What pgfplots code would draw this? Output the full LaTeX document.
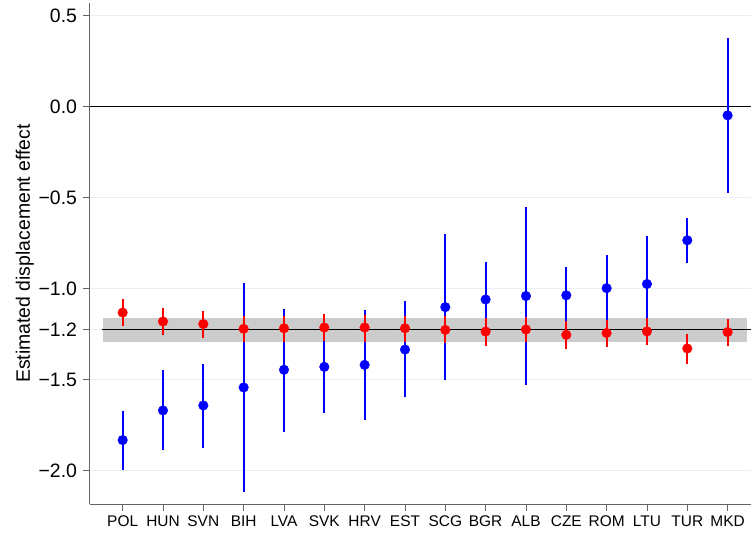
\documentclass[border=0pt]{standalone}
\usepackage{fontspec}
\setmainfont{Liberation Sans}
\usepackage{pgfplots}
\pgfplotsset{compat=1.18}
\usepackage{pgfplotstable}

% point estimates
\pgfplotstableread{
x y
0 -1.831
1 -1.668
2 -1.641
3 -1.542
4 -1.445
5 -1.429
6 -1.418
7 -1.334
8 -1.101
9 -1.059
10 -1.040
11 -1.036
12 -0.997
13 -0.974
14 -0.734
15 -0.048
}\bluedata

\pgfplotstableread{
x y
0 -1.131
1 -1.180
2 -1.194
3 -1.220
4 -1.217
5 -1.213
6 -1.213
7 -1.217
8 -1.226
9 -1.235
10 -1.224
11 -1.253
12 -1.243
13 -1.234
14 -1.328
15 -1.238
}\reddata

\definecolor{gridc}{RGB}{230,239,242}
\definecolor{axc}{RGB}{100,100,100}
\definecolor{bandc}{RGB}{204,204,204}

\begin{document}
\begin{tikzpicture}
\begin{axis}[
  scale only axis, width=661bp, height=501bp,
  xmin=-0.81, xmax=15.58, ymin=-2.182, ymax=0.569,
  axis lines*=left,
  axis line style={axc, line width=1bp},
  xtick={0,...,15},
  xticklabels={POL,HUN,SVN,BIH,LVA,SVK,HRV,EST,SCG,BGR,ALB,CZE,ROM,LTU,TUR,MKD},
  ytick={-2,-1.5,-1.224,-1,-0.5,0,0.5},
  yticklabels={−2.0,−1.5,−1.2,−1.0,−0.5,0.0,0.5},
  tick align=outside, major tick length=7bp,
  tick style={axc, line width=0.9bp},
  ymajorgrids, grid style={gridc, line width=1bp},
  x tick label style={font=\fontsize{15.5}{18}\selectfont, yshift=-1bp},
  y tick label style={font=\fontsize{19.5}{22}\selectfont, xshift=-2.5bp},
  ylabel={Estimated displacement effect},
  ylabel style={font=\fontsize{19.5}{22}\selectfont, at={(rel axis cs:0,0.5)}, anchor=south, inner sep=0pt, yshift=56bp},
  unbounded coords=jump,
]
\coordinate (bbsw) at (rel axis cs:0,0);
\coordinate (bbne) at (rel axis cs:1,1);
\addplot[draw=none, fill=bandc] coordinates {(-0.48,-1.16) (15.48,-1.16) (15.48,-1.29) (-0.48,-1.29)} -- cycle;
\addplot[black, line width=1.3bp] coordinates {(-0.51,-1.224) (15.58,-1.224)};
\addplot[black, line width=1.3bp] coordinates {(-0.81,0) (15.58,0)};
% blue confidence intervals
\addplot[blue, line width=2.1bp, line cap=butt] coordinates {
 (0,-1.994) (0,-1.674) (0,nan)
 (1,-1.888) (1,-1.445) (1,nan)
 (2,-1.872) (2,-1.411) (2,nan)
 (3,-2.116) (3,-0.969) (3,nan)
 (4,-1.784) (4,-1.109) (4,nan)
 (5,-1.683) (5,-1.160) (5,nan)
 (6,-1.720) (6,-1.118) (6,nan)
 (7,-1.597) (7,-1.070) (7,nan)
 (8,-1.500) (8,-0.700) (8,nan)
 (9,-1.260) (9,-0.852) (9,nan)
 (10,-1.529) (10,-0.552) (10,nan)
 (11,-1.220) (11,-0.880) (11,nan)
 (12,-1.220) (12,-0.815) (12,nan)
 (13,-1.220) (13,-0.711) (13,nan)
 (14,-0.856) (14,-0.612) (14,nan)
 (15,-0.476) (15,0.379)
};
\addplot[only marks, mark=*, mark size=4.8bp, blue, mark options={fill=blue, draw=blue}]
  table[x=x, y=y] {\bluedata};
% red confidence intervals
\addplot[red, line width=2.1bp, line cap=butt] coordinates {
 (0,-1.207) (0,-1.057) (0,nan)
 (1,-1.253) (1,-1.107) (1,nan)
 (2,-1.271) (2,-1.121) (2,nan)
 (3,-1.290) (3,-1.149) (3,nan)
 (4,-1.290) (4,-1.149) (4,nan)
 (5,-1.286) (5,-1.140) (5,nan)
 (6,-1.290) (6,-1.143) (6,nan)
 (7,-1.293) (7,-1.147) (7,nan)
 (8,-1.299) (8,-1.152) (8,nan)
 (9,-1.312) (9,-1.158) (9,nan)
 (10,-1.294) (10,-1.153) (10,nan)
 (11,-1.332) (11,-1.177) (11,nan)
 (12,-1.322) (12,-1.172) (12,nan)
 (13,-1.309) (13,-1.162) (13,nan)
 (14,-1.411) (14,-1.247) (14,nan)
 (15,-1.313) (15,-1.166)
};
\addplot[only marks, mark=*, mark size=4.8bp, red, mark options={fill=red, draw=red}]
  table[x=x, y=y] {\reddata};
\end{axis}
\pgfresetboundingbox
\path ([shift={(-90bp,-33bp)}]bbsw) rectangle ([yshift=3bp]bbne);
\end{tikzpicture}
\end{document}
